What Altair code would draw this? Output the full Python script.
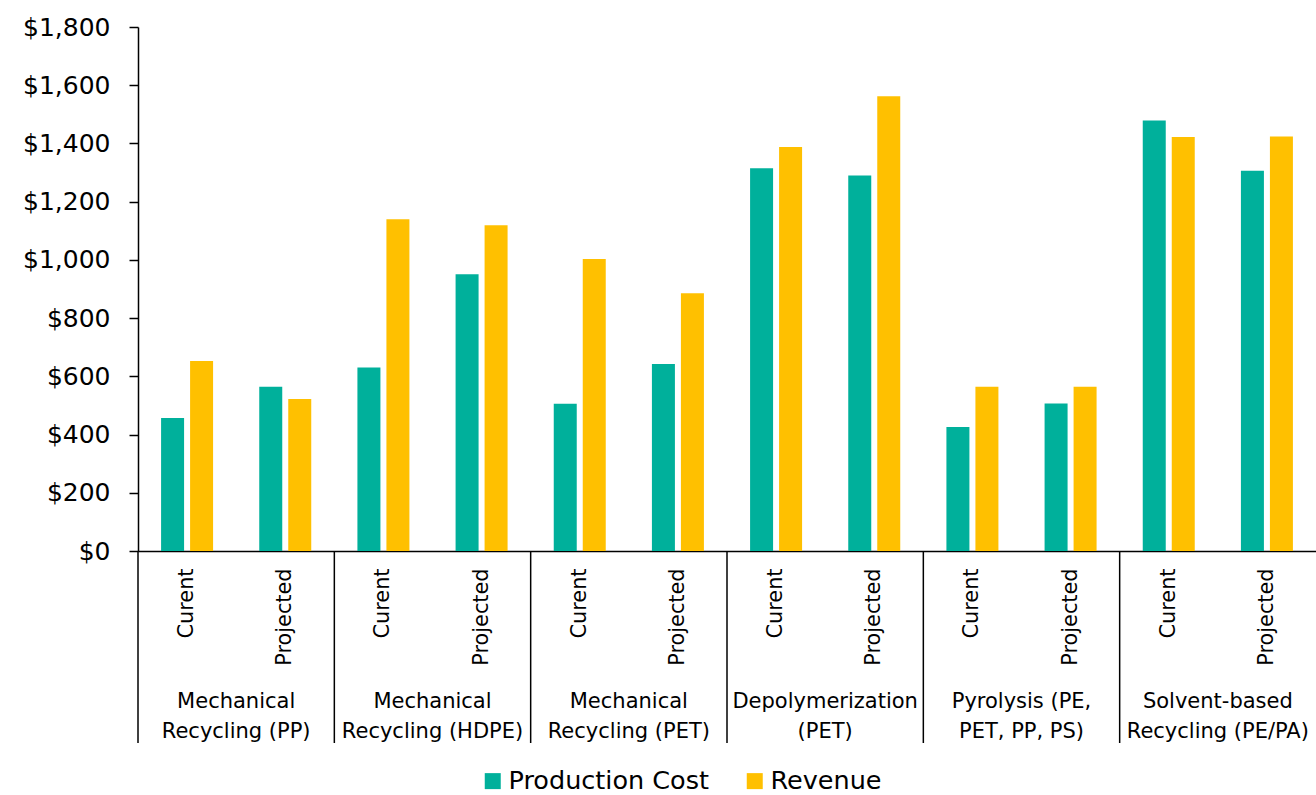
import altair as alt
import pandas as pd

# ---- data ----
groups = [
    "Mechanical Recycling (PP)",
    "Mechanical Recycling (HDPE)",
    "Mechanical Recycling (PET)",
    "Depolymerization (PET)",
    "Pyrolysis (PE, PET, PP, PS)",
    "Solvent-based Recycling (PE/PA)",
]
group_labels = [
    "Mechanical\nRecycling (PP)",
    "Mechanical\nRecycling (HDPE)",
    "Mechanical\nRecycling (PET)",
    "Depolymerization\n(PET)",
    "Pyrolysis (PE,\nPET, PP, PS)",
    "Solvent-based\nRecycling (PE/PA)",
]
periods = ["Curent", "Projected"]
series = ["Production Cost", "Revenue"]
production_cost = [457, 564, 630, 951, 506, 642, 1315, 1290, 426, 507, 1479, 1306]
revenue = [653, 522, 1140, 1119, 1003, 885, 1388, 1562, 564, 564, 1422, 1424]
y_ticks = [0, 200, 400, 600, 800, 1000, 1200, 1400, 1600, 1800]

colors = ["#00B09B", "#FFC000"]
FONT = "DejaVu Sans"

# ---- tables ----
keys = [f"{g}|{p}" for g in groups for p in periods]
bar_rows = []
for i, k in enumerate(keys):
    bar_rows.append({"key": k, "series": series[0], "value": production_cost[i]})
    bar_rows.append({"key": k, "series": series[1], "value": revenue[i]})
bar_df = pd.DataFrame(bar_rows)

sep_df = pd.DataFrame({"key": [f"{g}|{periods[0]}" for g in groups]})
lab_df = pd.DataFrame({"key": [f"{g}|{periods[1]}" for g in groups], "label": group_labels})

W, H = 1178, 524

x_scale = alt.Scale(domain=keys, paddingInner=0, paddingOuter=0)
x_axis = alt.Axis(
    labelExpr="split(datum.label, '|')[1]",
    labelAngle=270,
    labelFont=FONT,
    labelFontSize=20.8,
    labelColor="black",
    labelPadding=17,
    ticks=False,
    domainColor="black",
    domainWidth=1.5,
    labelLimit=300,
)

bars = alt.Chart(bar_df).mark_bar().encode(
    x=alt.X("key:N", scale=x_scale, sort=keys, title=None, axis=x_axis),
    xOffset=alt.XOffset(
        "series:N",
        sort=series,
        scale=alt.Scale(domain=series, paddingInner=0.207, paddingOuter=0.796),
    ),
    y=alt.Y(
        "value:Q",
        scale=alt.Scale(domain=[0, 1800], nice=False),
        title=None,
        axis=alt.Axis(
            values=y_ticks,
            format="$,.0f",
            grid=False,
            labelFont=FONT,
            labelFontSize=25,
            labelColor="black",
            labelPadding=19,
            tickSize=9,
            tickColor="black",
            tickWidth=1.5,
            domainColor="black",
            domainWidth=1.5,
        ),
    ),
    color=alt.Color(
        "series:N",
        sort=series,
        scale=alt.Scale(domain=series, range=colors),
        legend=alt.Legend(
            title=None,
            orient="none",
            direction="horizontal",
            legendX=342,
            legendY=741,
            symbolType="square",
            symbolSize=256,
            symbolStrokeWidth=0,
            labelFont=FONT,
            labelFontSize=25.5,
            labelColor="black",
            labelOffset=3,
            columnPadding=33,
            padding=0,
            labelLimit=400,
        ),
    ),
)

seps = alt.Chart(sep_df).mark_rule(color="black", strokeWidth=1.5).encode(
    x=alt.X("key:N", scale=x_scale, sort=keys, bandPosition=0, title=None, axis=x_axis),
    y=alt.value(H),
    y2=alt.value(H + 192),
)

glabels = alt.Chart(lab_df).mark_text(
    lineBreak="\n", font=FONT, fontSize=21, lineHeight=30, baseline="top", color="black", align="center"
).encode(
    x=alt.X("key:N", scale=x_scale, sort=keys, bandPosition=0, title=None, axis=x_axis),
    y=alt.value(664),
    text="label:N",
)

chart = alt.layer(bars, seps, glabels).properties(
    width=W,
    height=H,
    autosize=alt.AutoSizeParams(type="none"),
    padding={"left": 138, "top": 27, "right": 0, "bottom": 244},
    background="white",
).configure_view(stroke=None)

chart.save("out.html", embed_options={"renderer": "svg", "actions": False})
